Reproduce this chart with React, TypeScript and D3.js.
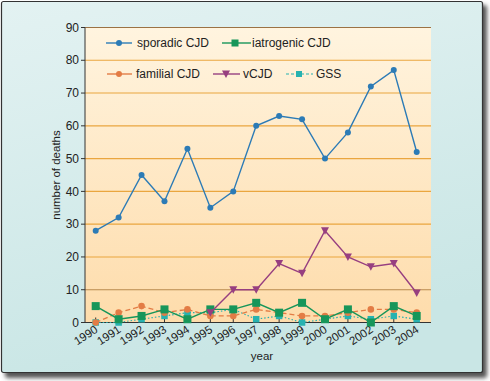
import React from "react";
import * as d3 from "d3";

const years = [1990, 1991, 1992, 1993, 1994, 1995, 1996, 1997, 1998, 1999, 2000, 2001, 2002, 2003, 2004];
const sporadic = [28, 32, 45, 37, 53, 35, 40, 60, 63, 62, 50, 58, 72, 77, 52];
const iatrogenic = [5, 1, 2, 4, 1, 4, 4, 6, 3, 6, 1, 4, 0, 5, 2];
const familial = [0, 3, 5, 3, 4, 2, 2, 4, 3, 2, 2, 3, 4, 4, 3];
const vcjdYears = [1995, 1996, 1997, 1998, 1999, 2000, 2001, 2002, 2003, 2004];
const vcjd = [3, 10, 10, 18, 15, 28, 20, 17, 18, 9];
const gss = [0, 0, 1, 2, 3, 3, 4, 1, 2, 0, 1, 2, 1, 2, 1];
const yTicks = [0, 10, 20, 30, 40, 50, 60, 70, 80, 90];

const C = {
  sporadic: "#2c7bb6",
  iatrogenic: "#17965a",
  familial: "#e37c45",
  vcjd: "#973f80",
  gss: "#27b2b0",
};

const FONT = "'Liberation Sans', Arial, sans-serif";

export default function App() {
  const x = d3.scaleLinear().domain([1990, 2004]).range([95.7, 416.7]);
  const y = d3.scaleLinear().domain([0, 90]).range([322.5, 27.5]);
  const plotL = 85, plotR = 431;

  const line = d3.line<[number, number]>().x(d => x(d[0])).y(d => y(d[1]));
  const pts = (ys: number[], vs: number[]) => ys.map((yr, i) => [yr, vs[i]] as [number, number]);

  const sq = (cx: number, cy: number, s: number, fill: string, key: string) => (
    <rect key={key} x={cx - s / 2} y={cy - s / 2} width={s} height={s} fill={fill} />
  );
  const tri = (cx: number, cy: number, fill: string, key: string) => (
    <path key={key} d={`M${cx - 4},${cy - 3.5}L${cx + 4},${cy - 3.5}L${cx},${cy + 4}Z`} fill={fill} />
  );

  return (
    <svg width={490} height={381} style={{ position: "absolute", left: 0, top: 0 }} fontFamily={FONT}>
      <defs>
        <linearGradient id="bg" x1="0" y1="0" x2="0.3" y2="1">
          <stop offset="0" stopColor="#e3f2f2" />
          <stop offset="1" stopColor="#c9e6e5" />
        </linearGradient>
        <linearGradient id="plot" x1="0" y1="0" x2="0" y2="1">
          <stop offset="0" stopColor="#fff4df" />
          <stop offset="1" stopColor="#fedcab" />
        </linearGradient>
        <filter id="sh" x="-5%" y="-5%" width="115%" height="115%">
          <feGaussianBlur stdDeviation="2" />
        </filter>
      </defs>
      <rect x={5} y={5} width={482} height={373} rx={3} fill="#555" filter="url(#sh)" />
      <rect x={1.5} y={1.5} width={481} height={371} rx={2} fill="url(#bg)" stroke="#333" strokeWidth={1.2} />

      <rect x={plotL} y={y(90)} width={plotR - plotL} height={y(0) - y(90)} fill="url(#plot)" />
      {yTicks.filter(t => t > 0).map(t => (
        <line key={t} x1={plotL} x2={plotR} y1={y(t)} y2={y(t)}
          stroke={t === 90 ? "#9b7244" : t === 10 ? "#b98a4e" : "#eaa63f"} strokeWidth={1.1} />
      ))}
      {yTicks.map(t => (
        <g key={"yt" + t}>
          <line x1={plotL - 4} x2={plotL} y1={y(t)} y2={y(t)} stroke="#333" strokeWidth={1} />
          <text x={plotL - 6} y={y(t)} dy="0.35em" textAnchor="end" fontSize={12} fill="#222">{t}</text>
        </g>
      ))}
      <line x1={plotL} x2={plotL} y1={y(90)} y2={y(0)} stroke="#333" strokeWidth={1} />
      <line x1={plotL} x2={plotR} y1={y(0)} y2={y(0)} stroke="#333" strokeWidth={1.2} />
      {years.map(yr => (
        <g key={"xt" + yr}>
          <line x1={x(yr)} x2={x(yr)} y1={y(0)} y2={y(0) - 5} stroke="#333" strokeWidth={1} />
          <text transform={`translate(${x(yr) + 3},${y(0) + 9}) rotate(-33)`} textAnchor="end" fontSize={11.5} fill="#222">{yr}</text>
        </g>
      ))}
      <text transform={`translate(60,${y(45)}) rotate(-90)`} textAnchor="middle" fontSize={11.5} fill="#222">number of deaths</text>
      <text x={262} y={360} textAnchor="middle" fontSize={11.5} fill="#222">year</text>

      {/* GSS */}
      <path d={line(pts(years, gss)) || ""} fill="none" stroke={C.gss} strokeWidth={1.1} strokeDasharray="1.5,2" />
      {years.map((yr, i) => sq(x(yr), y(gss[i]), 6.5, C.gss, "g" + i))}
      {/* familial */}
      <path d={line(pts(years, familial)) || ""} fill="none" stroke={C.familial} strokeWidth={1.3} strokeDasharray="5,3" />
      {years.map((yr, i) => <circle key={"f" + i} cx={x(yr)} cy={y(familial[i])} r={3.3} fill={C.familial} />)}
      {/* iatrogenic */}
      <path d={line(pts(years, iatrogenic)) || ""} fill="none" stroke={C.iatrogenic} strokeWidth={1.4} />
      {years.map((yr, i) => sq(x(yr), y(iatrogenic[i]), 8, C.iatrogenic, "i" + i))}
      {/* vCJD */}
      <path d={line(pts(vcjdYears, vcjd)) || ""} fill="none" stroke={C.vcjd} strokeWidth={1.4} />
      {vcjdYears.map((yr, i) => tri(x(yr), y(vcjd[i]), C.vcjd, "v" + i))}
      {/* sporadic */}
      <path d={line(pts(years, sporadic)) || ""} fill="none" stroke={C.sporadic} strokeWidth={1.4} />
      {years.map((yr, i) => <circle key={"s" + i} cx={x(yr)} cy={y(sporadic[i])} r={3} fill={C.sporadic} />)}

      {/* legend */}
      <g fontSize={12} fill="#222">
        <line x1={106} x2={132} y1={43} y2={43} stroke={C.sporadic} strokeWidth={1.4} />
        <circle cx={119} cy={43} r={3} fill={C.sporadic} />
        <text x={137} y={43} dy="0.36em">sporadic CJD</text>

        <line x1={222} x2={251} y1={43} y2={43} stroke={C.iatrogenic} strokeWidth={1.4} />
        {sq(235, 43, 7, C.iatrogenic, "li")}
        <text x={252} y={43} dy="0.36em">iatrogenic CJD</text>

        <line x1={107} x2={132} y1={74} y2={74} stroke={C.familial} strokeWidth={1.4} />
        <circle cx={119} cy={74} r={3} fill={C.familial} />
        <text x={136} y={74} dy="0.36em">familial CJD</text>

        <line x1={213} x2={240} y1={74} y2={74} stroke={C.vcjd} strokeWidth={1.4} />
        {tri(226, 74, C.vcjd, "lv")}
        <text x={243} y={74} dy="0.36em">vCJD</text>

        <line x1={286} x2={313} y1={74} y2={74} stroke={C.gss} strokeWidth={1.1} strokeDasharray="3,2" />
        {sq(299, 74, 6, C.gss, "lg")}
        <text x={316} y={74} dy="0.36em">GSS</text>
      </g>
    </svg>
  );
}
